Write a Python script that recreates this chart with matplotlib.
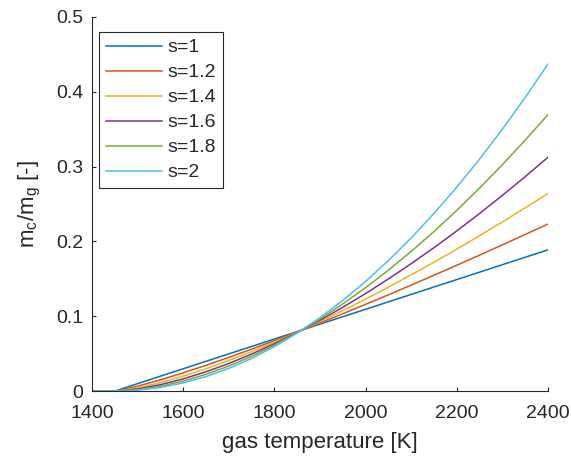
import numpy as np
import matplotlib
matplotlib.use('Agg')
import matplotlib.pyplot as plt

plt.rcParams['font.family'] = ['Liberation Sans', 'DejaVu Sans']
plt.rcParams['mathtext.fontset'] = 'custom'
plt.rcParams['mathtext.rm'] = 'Liberation Sans'
plt.rcParams['mathtext.it'] = 'Liberation Sans'

# gas temperature [K]
temp = [1400, 1450, 1500, 1550, 1600, 1650, 1700, 1750, 1800, 1850, 1900,
        1950, 2000, 2050, 2100, 2150, 2200, 2250, 2300, 2350, 2400]

# m_c/m_g, one list per exponent s
s_1 = [0, 0, 0.0099, 0.0199, 0.0298, 0.0398, 0.0497, 0.0596, 0.0696, 0.0795, 0.0895,
       0.0994, 0.1093, 0.1193, 0.1292, 0.1392, 0.1491, 0.1590, 0.1690, 0.1789, 0.1888]
s_12 = [0, 0, 0.0065, 0.0150, 0.0244, 0.0344, 0.0450, 0.0560, 0.0674, 0.0791, 0.0911,
        0.1034, 0.1160, 0.1287, 0.1417, 0.1549, 0.1682, 0.1818, 0.1955, 0.2094, 0.2234]
s_14 = [0, 0, 0.0043, 0.0113, 0.0199, 0.0298, 0.0408, 0.0526, 0.0653, 0.0787, 0.0928,
        0.1076, 0.1230, 0.1389, 0.1554, 0.1723, 0.1898, 0.2078, 0.2262, 0.2450, 0.2643]
s_16 = [0, 0, 0.0028, 0.0085, 0.0163, 0.0258, 0.0369, 0.0494, 0.0633, 0.0783, 0.0946,
        0.1120, 0.1304, 0.1499, 0.1704, 0.1918, 0.2142, 0.2375, 0.2617, 0.2868, 0.3127]
s_18 = [0, 0, 0.0018, 0.0064, 0.0133, 0.0224, 0.0335, 0.0464, 0.0613, 0.0780, 0.0964,
        0.1165, 0.1383, 0.1617, 0.1868, 0.2134, 0.2417, 0.2715, 0.3028, 0.3356, 0.3698]
s_2 = [0, 0, 0.0012, 0.0048, 0.0109, 0.0194, 0.0303, 0.0436, 0.0594, 0.0776, 0.0982,
       0.1212, 0.1467, 0.1745, 0.2048, 0.2376, 0.2727, 0.3103, 0.3503, 0.3927, 0.4376]

labels = ['s=1', 's=1.2', 's=1.4', 's=1.6', 's=1.8', 's=2']
series = [s_1, s_12, s_14, s_16, s_18, s_2]

# MATLAB default line colours
colors = [(0, 0.447, 0.741), (0.85, 0.325, 0.098), (0.929, 0.694, 0.125),
          (0.494, 0.184, 0.556), (0.466, 0.674, 0.188), (0.301, 0.745, 0.933)]

axcol = (0.15, 0.15, 0.15)

fig = plt.figure(figsize=(5.71, 4.59), dpi=100)
ax = fig.add_axes([0.161, 0.148, 0.799, 0.815])

for y, lab, c in zip(series, labels, colors):
    ax.plot(temp, y, color=c, lw=1.1, label=lab)

ax.set_xlim(1400, 2400)
ax.set_ylim(0, 0.5)
ax.set_xticks([1400, 1600, 1800, 2000, 2200, 2400])
ax.set_yticks([0, 0.1, 0.2, 0.3, 0.4, 0.5])
ax.set_yticklabels(['0', '0.1', '0.2', '0.3', '0.4', '0.5'])

for side in ['top', 'right']:
    ax.spines[side].set_visible(False)
for side in ['left', 'bottom']:
    ax.spines[side].set_color(axcol)
    ax.spines[side].set_linewidth(0.8)
ax.tick_params(direction='in', length=3, width=0.8, colors=axcol,
               labelsize=14, labelcolor=axcol)
ax.tick_params(axis='x', pad=10)
ax.tick_params(axis='y', pad=6)

ax.set_xlabel('gas temperature [K]', fontsize=16, color=axcol)
ax.set_ylabel(r'm$_\mathregular{c}$/m$_\mathregular{g}$ [-]', fontsize=16, color=axcol)
ax.xaxis.set_label_coords(0.5, -0.11)
ax.yaxis.set_label_coords(-0.107, 0.5)

leg = ax.legend(loc='upper left', bbox_to_anchor=(0.015, 0.96), fontsize=14,
                handlelength=2.9, labelspacing=0.38, fancybox=False,
                framealpha=1, borderpad=0.35, handletextpad=0.3, borderaxespad=0)
leg.get_frame().set_edgecolor(axcol)
leg.get_frame().set_linewidth(0.8)
for t in leg.get_texts():
    t.set_color(axcol)

plt.savefig('out.png', dpi=100)
